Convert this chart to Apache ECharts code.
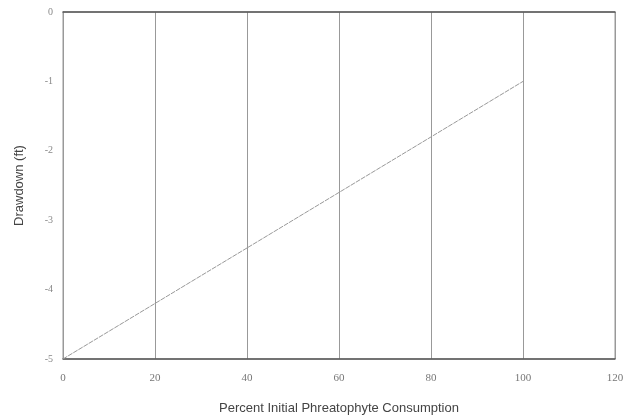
<!DOCTYPE html>
<html><head><meta charset="utf-8">
<script src="https://cdn.jsdelivr.net/npm/echarts@6/dist/echarts.min.js"></script>
<style>html,body{margin:0;padding:0;background:#fff}#c{width:623px;height:419px}</style>
</head><body><div id="c"></div>
<script>
var consumption = [0, 100];
var drawdown = [-5, -1];
var xTicks = [0, 20, 40, 60, 80, 100, 120];
var yTicks = [0, -1, -2, -3, -4, -5];

var chart = echarts.init(document.getElementById('c'), null, {renderer: 'canvas'});
chart.setOption({
  animation: false,
  backgroundColor: '#fff',
  grid: {left: 63, right: 8, top: 12, bottom: 60, show: true, borderColor: '#999', borderWidth: 1,
         containLabel: false, outerBoundsMode: 'none'},
  xAxis: [{
    type: 'value', min: xTicks[0], max: xTicks[xTicks.length - 1], interval: 20, position: 'bottom',
    name: 'Percent Initial Phreatophyte Consumption', nameLocation: 'middle', nameGap: 43,
    nameTextStyle: {fontFamily: 'Liberation Sans', fontSize: 13, color: '#444'},
    axisLine: {show: true, onZero: false, lineStyle: {color: '#555', width: 1.5}},
    axisTick: {show: false},
    axisLabel: {fontFamily: 'Liberation Serif', fontSize: 11, color: '#777', margin: 14},
    splitLine: {show: true, lineStyle: {color: '#999', width: 1}}
  }, {
    type: 'value', min: xTicks[0], max: xTicks[xTicks.length - 1], interval: 20, position: 'top',
    axisLine: {show: true, onZero: false, lineStyle: {color: '#555', width: 1.5}},
    axisTick: {show: false}, axisLabel: {show: false}, splitLine: {show: false}
  }],
  yAxis: {
    type: 'value', min: -5, max: 0, interval: 1,
    name: 'Drawdown (ft)', nameLocation: 'middle', nameGap: 37, nameRotate: 90,
    nameTextStyle: {fontFamily: 'Liberation Sans', fontSize: 13, color: '#444'},
    axisLine: {show: true, onZero: false, lineStyle: {color: '#999', width: 1}},
    axisTick: {show: false},
    axisLabel: {fontFamily: 'Liberation Serif', fontSize: 10, color: '#888', margin: 10},
    splitLine: {show: false}
  },
  series: [{
    type: 'line',
    data: consumption.map(function (x, i) { return [x, drawdown[i]]; }),
    showSymbol: false,
    lineStyle: {color: '#999', width: 1, type: [5, 1]}
  }]
});
</script></body></html>
